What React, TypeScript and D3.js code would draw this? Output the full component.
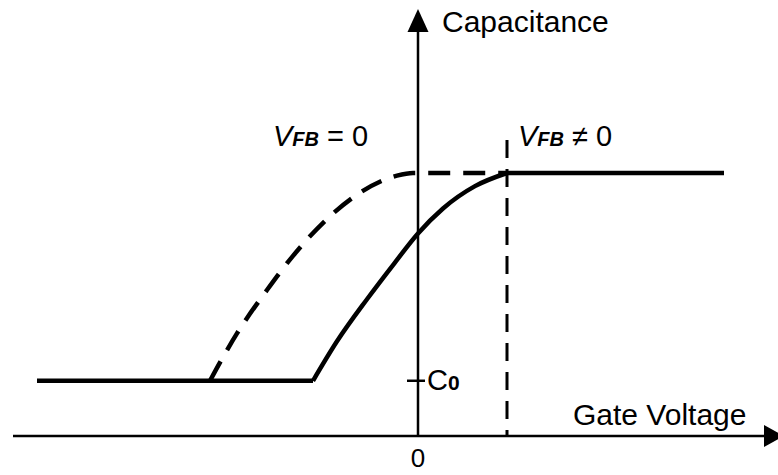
import React from "react";
import * as d3 from "d3";

// Gate voltage (arbitrary units, 0 at the capacitance axis) and normalised capacitance
const voltageDomain: [number, number] = [-4.05, 3.6];
const capDomain: [number, number] = [0, 1];

const C0 = 0.21;
const CMAX = 1.0;

// Ideal MOS C–V curve (V_FB = 0): rising part, dashed
const idealRise: [number, number][] = [
  [-2.08, 0.21],
  [-1.95, 0.3],
  [-1.81, 0.39],
  [-1.51, 0.555],
  [-1.25, 0.685],
  [-0.91, 0.825],
  [-0.58, 0.925],
  [-0.21, 0.99],
  [-0.05, 1.0],
  [0.89, 1.0],
];

// Shifted C–V curve (V_FB ≠ 0): rising part, solid
const shiftedRise: [number, number][] = [
  [-1.05, 0.21],
  [-0.81, 0.36],
  [-0.51, 0.52],
  [-0.25, 0.65],
  [0, 0.77],
  [0.25, 0.865],
  [0.57, 0.95],
  [0.89, 1.0],
];

// Flat segments: low plateau (left) and high plateau (right)
const lowPlateau: [number, number][] = [
  [-3.81, C0],
  [-1.05, C0],
];
const highPlateau: [number, number][] = [
  [0.89, CMAX],
  [3.06, CMAX],
];

// Flat-band marker position on the voltage axis
const flatBandV = 0.89;

const W = 778;
const H = 475;

export default function App() {
  const x = d3.scaleLinear().domain(voltageDomain).range([13, 778]);
  const y = d3.scaleLinear().domain(capDomain).range([436, 173]);

  const smooth = d3
    .line<[number, number]>()
    .x((d) => x(d[0]))
    .y((d) => y(d[1]))
    .curve(d3.curveMonotoneX);
  const straight = d3
    .line<[number, number]>()
    .x((d) => x(d[0]))
    .y((d) => y(d[1]));

  const x0 = x(0);
  const yAxis = y(0);
  const xFB = x(flatBandV);
  const font = "'Liberation Sans', Arial, sans-serif";

  return (
    <svg
      width={W}
      height={H}
      style={{ position: "fixed", left: 0, top: 0, background: "#fff" }}
      fontFamily={font}
    >
      <rect width={W} height={H} fill="#fff" />

      {/* axes */}
      <line x1={13} y1={yAxis} x2={764} y2={yAxis} stroke="#000" strokeWidth={2.5} />
      <path d={`M${764},${yAxis - 11} L${784},${yAxis} L${764},${yAxis + 11} Z`} fill="#000" />
      <line x1={x0} y1={30} x2={x0} y2={yAxis} stroke="#000" strokeWidth={2.5} />
      <path d={`M${x0 - 10.5},32 L${x0},9 L${x0 + 10.5},32 Z`} fill="#000" />

      {/* C0 tick */}
      <line x1={x0 - 11} y1={y(C0)} x2={x0 + 7} y2={y(C0)} stroke="#000" strokeWidth={2.5} />

      {/* flat-band voltage marker */}
      <line
        x1={xFB}
        y1={140}
        x2={xFB}
        y2={yAxis}
        stroke="#000"
        strokeWidth={3}
        strokeDasharray="18 11"
      />

      {/* curves */}
      <path d={smooth(idealRise) ?? ""} fill="none" stroke="#000" strokeWidth={4.5} strokeDasharray="22 13" />
      <path d={straight(lowPlateau) ?? ""} fill="none" stroke="#000" strokeWidth={4.5} />
      <path d={smooth(shiftedRise) ?? ""} fill="none" stroke="#000" strokeWidth={4.5} strokeLinejoin="round" />
      <path d={straight(highPlateau) ?? ""} fill="none" stroke="#000" strokeWidth={4.5} />

      {/* labels */}
      <text x={442} y={32} fontSize={30} fill="#000">
        Capacitance
      </text>
      <text x={573} y={425} fontSize={30} fill="#000">
        Gate Voltage
      </text>
      <text x={x0} y={467} fontSize={26} textAnchor="middle" fill="#000">
        0
      </text>
      <text x={427} y={390} fontSize={29} fill="#000">
        C<tspan fontSize={21} fontWeight="bold">0</tspan>
      </text>

      <text x={273} y={146} fontSize={29} fill="#000">
        <tspan fontStyle="italic">V</tspan>
        <tspan fontStyle="italic" fontWeight="bold" fontSize={20}>FB</tspan>
        <tspan> = 0</tspan>
      </text>
      <text x={518} y={146} fontSize={29} fill="#000">
        <tspan fontStyle="italic">V</tspan>
        <tspan fontStyle="italic" fontWeight="bold" fontSize={20}>FB</tspan>
        <tspan> ≠ 0</tspan>
      </text>
    </svg>
  );
}
